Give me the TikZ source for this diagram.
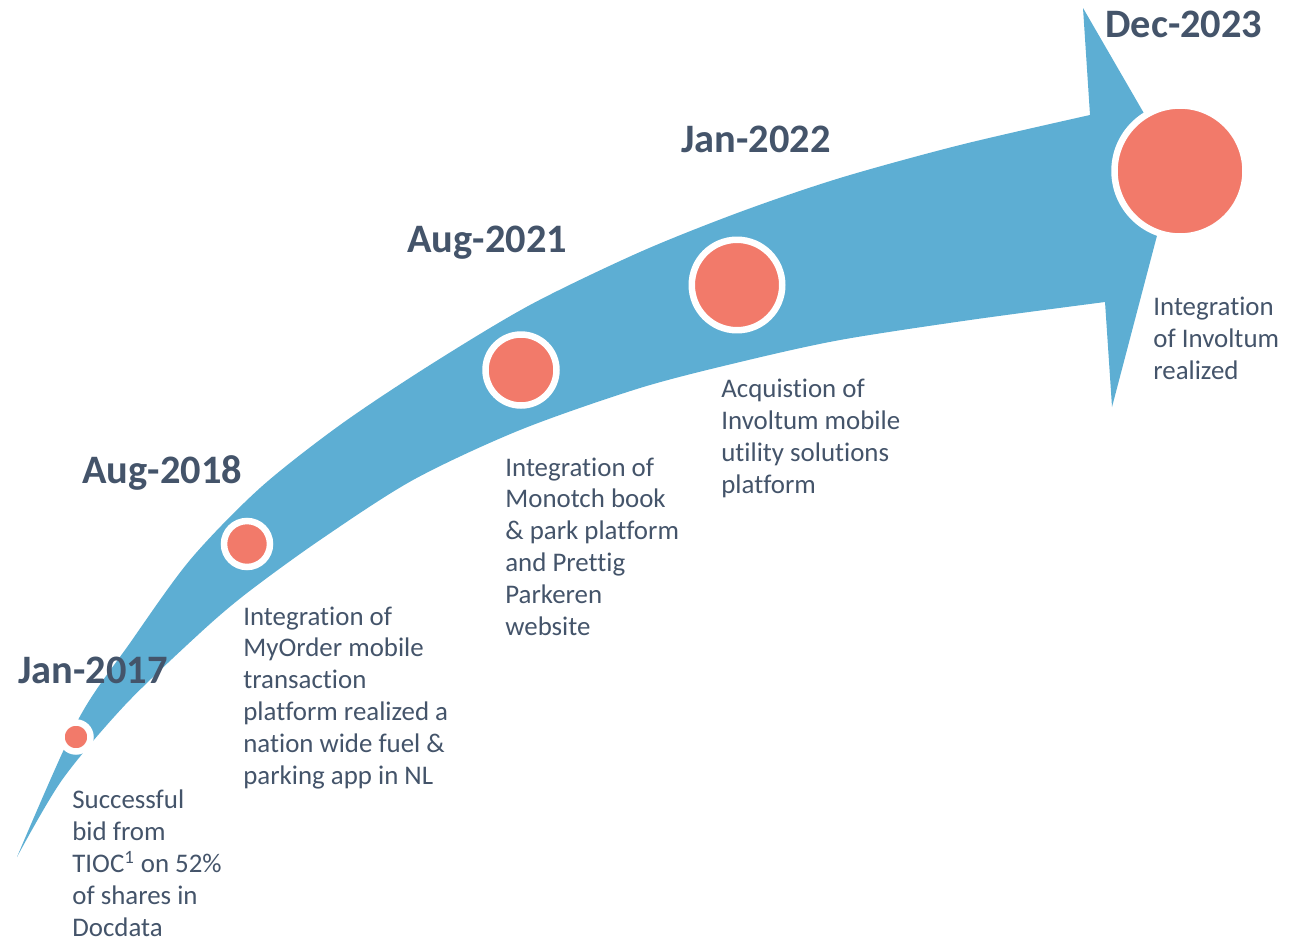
\documentclass[tikz,border=0pt]{standalone}
\usepackage{fontspec}
\setmainfont{Carlito}[Ligatures=NoCommon]
\usepackage{xcolor}
\usetikzlibrary{positioning}

\definecolor{arrowblue}{HTML}{5DAED3}
\definecolor{salmon}{HTML}{F27A6A}
\definecolor{slate}{HTML}{44546A}

\begin{document}
\begin{tikzpicture}[x=0.02cm, y=-0.02cm,
    milestone/.style={circle, draw=white, line width=0.13cm, fill=salmon, inner sep=0pt},
    datelabel/.style={anchor=base west, inner sep=0pt, text=slate, font=\fontsize{23}{27}\selectfont\bfseries},
    desc/.style={anchor=base west, inner sep=0pt, text=slate, align=left, font=\fontsize{15.3}{18.1}\selectfont}]
    \useasboundingbox (0,0) rectangle (1294,943);

    % the curved timeline arrow
    \fill[arrowblue] plot[smooth, tension=0.5] coordinates {(17,857) (78,720) (130,643) (190,560) (260,488) (340,425) (430,365) (530,305) (640,252) (740,212) (840,178) (960,145) (1090,115)}
        -- (1083,8) -- (1175,167) -- (1112,407) -- (1105,302)
        -- plot[smooth, tension=0.5] coordinates {(1105,302) (970,320) (840,340) (740,362) (640,388) (520,430) (413,480) (320,540) (247,593) (200,633) (125,705) (62,780) (17,857)}
        -- cycle;

    % milestones
    \node[milestone, minimum size=0.58cm] (m2017) at (76,737) {};
    \node[milestone, minimum size=0.92cm] (m2018) at (247,544) {};
    \node[milestone, minimum size=1.42cm] (m2021) at (521,370) {};
    \node[milestone, minimum size=1.81cm] (m2022) at (737,285) {};
    \node[milestone, minimum size=2.62cm] (m2023) at (1180,171) {};

    % dates
    \node[datelabel] (d2017) at (18,683) {Jan-2017};
    \node[datelabel] (d2018) at (82,483) {Aug-2018};
    \node[datelabel] (d2021) at (407,252) {Aug-2021};
    \node[datelabel] (d2022) at (681,152) {Jan-2022};
    \node[datelabel] (d2023) at (1105,37) {Dec-2023};

    % descriptions (anchored on their last line)
    \node[desc] (t2017) at (72,936) {Successful\\bid from\\TIOC\textsuperscript{1} on 52\%\\of shares in\\Docdata};
    \node[desc] (t2018) at (243,784) {Integration of\\MyOrder mobile\\transaction\\platform realized a\\nation wide fuel \&\\parking app in NL};
    \node[desc] (t2021) at (505,635) {Integration of\\Monotch book\\\& park platform\\and Prettig\\Parkeren\\website};
    \node[desc] (t2022) at (721,493) {Acquistion of\\Involtum mobile\\utility solutions\\platform};
    \node[desc] (t2023) at (1153,379) {Integration\\of Involtum\\realized};
\end{tikzpicture}
\end{document}
